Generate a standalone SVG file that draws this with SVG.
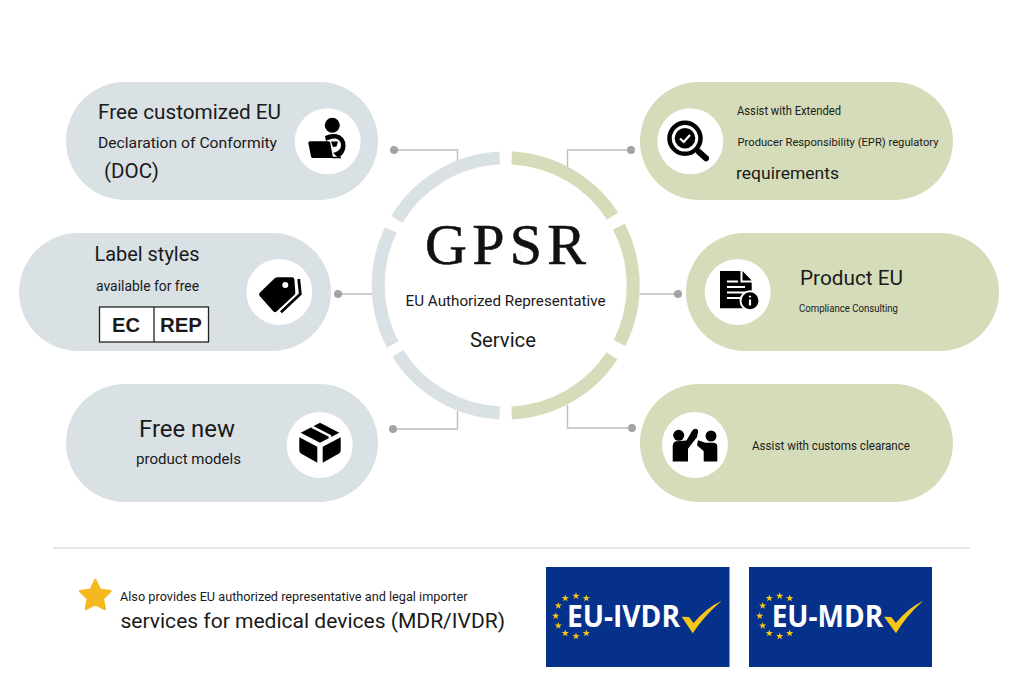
<svg xmlns="http://www.w3.org/2000/svg" width="1024" height="688" viewBox="0 0 1024 688">
<style>
text{font-family:"Roboto","Inter","Liberation Sans",sans-serif;fill:#1a1a1a;}
.bl{fill:#d9e1e5}.gr{fill:#d5dcb9}
.ic{fill:#fff}
.k{fill:#000}
.ringb{fill:none;stroke:#d9e1e5;stroke-width:13}
.ringg{fill:none;stroke:#d5dcb9;stroke-width:13}
.con{fill:none;stroke:#bdbdbd;stroke-width:1.4}
.dot{fill:#a3a3a3}
.badge{fill:#06318a}
.eu{font-family:"Open Sans","Liberation Sans",sans-serif;font-weight:700;font-size:31px;fill:#fff}
.st{fill:#f5c518}
.ck{fill:#f5c518}
</style>
<defs>
<path id="s" d="M0-3.8L.9-1.25 3.6-1.18 1.45.48 2.23 3.07 0 1.55-2.23 3.07-1.45.48-3.6-1.18-.9-1.25Z"/>
</defs>
<rect width="1024" height="688" fill="#fff"/>

<g id="connectors">
<path class="con" d="M394 150H457.5V161"/>
<circle class="dot" cx="394" cy="150" r="4"/>
<path class="con" d="M338 294H372"/>
<circle class="dot" cx="338" cy="294" r="4"/>
<path class="con" d="M393 429H457.5V411"/>
<circle class="dot" cx="393" cy="429" r="4"/>
<path class="con" d="M631 150H567.5V167"/>
<circle class="dot" cx="631" cy="150" r="4"/>
<path class="con" d="M640 294H678"/>
<circle class="dot" cx="678" cy="294" r="4"/>
<path class="con" d="M632 428H567.5V405"/>
<circle class="dot" cx="632" cy="428" r="4"/>
</g>

<g id="hub">
<path class="ringb" d="M499.7 158.1A127.5 127.5 0 0 0 396.8 219.3"/>
<path class="ringb" d="M390.9 230A127.5 127.5 0 0 0 392.6 344.4"/>
<path class="ringb" d="M397.8 353.4A127.5 127.5 0 0 0 499.7 412.9"/>
<path class="ringg" d="M511.7 158.1A127.5 127.5 0 0 1 612.6 216.1"/>
<path class="ringg" d="M618.9 226.8A127.5 127.5 0 0 1 619.5 343"/>
<path class="ringg" d="M612 355.9A127.5 127.5 0 0 1 511.7 412.9"/>
<text x="425" y="264" font-size="58" textLength="161" lengthAdjust="spacing" stroke="#111" stroke-width=".6" style="font-family:'Liberation Serif',serif;fill:#111">GPSR</text>
<text x="405.500" y="305.500" font-size="15" textLength="200" lengthAdjust="spacingAndGlyphs">EU Authorized Representative</text>
<text x="470" y="347" font-size="20" textLength="66" lengthAdjust="spacingAndGlyphs">Service</text>
</g>

<g id="node-doc">
<rect class="bl" x="66" y="82" width="312" height="118" rx="59"/>
<text x="98" y="118.500" font-size="21" textLength="183" lengthAdjust="spacingAndGlyphs">Free customized EU</text>
<text x="98" y="147.500" font-size="15.500" textLength="179" lengthAdjust="spacingAndGlyphs">Declaration of Conformity</text>
<text x="104" y="177.500" font-size="19.500" textLength="55" lengthAdjust="spacingAndGlyphs">(DOC)</text>
<circle class="ic" cx="327.700" cy="141.300" r="33"/>
<circle class="k" cx="332.300" cy="125.300" r="7.500"/>
<path class="k" d="M325 136Q330 133.500 336 134Q345.500 136 345.500 146Q345 155 338 157.500L333 153Q341 151 341 145.500Q341 139.500 335 138.500Q329 139 326 141Z"/>
<path class="k" d="M331 141.500L338 141.500L336.500 146.500L333 147Z"/>
<path class="k" d="M310 141.300H328.500Q330 141.300 330.300 143L333 158H313Q311.300 158 311 156.500L308.300 143Q308.300 141.300 310 141.300Z"/>
<path d="M332 157.500H341" stroke="#000" stroke-width="1.500"/>
</g>

<g id="node-label">
<rect class="bl" x="19" y="233" width="312" height="118" rx="59"/>
<text x="94.500" y="260.500" font-size="19.500" textLength="105" lengthAdjust="spacingAndGlyphs">Label styles</text>
<text x="96" y="290.500" font-size="14" textLength="103" lengthAdjust="spacingAndGlyphs">available for free</text>
<rect x="99.500" y="307" width="109" height="35" fill="#fff" stroke="#222" stroke-width="1.300"/>
<path d="M154 307V342" stroke="#222" stroke-width="1.300"/>
<text x="112" y="332" font-size="20" font-weight="700" textLength="28" lengthAdjust="spacingAndGlyphs" style="font-family:'Liberation Sans',sans-serif">EC</text>
<text x="160" y="332" font-size="20" font-weight="700" textLength="42" lengthAdjust="spacingAndGlyphs" style="font-family:'Liberation Sans',sans-serif">REP</text>
<circle class="ic" cx="279.300" cy="292" r="33"/>
<path class="k" d="M259.700 292.800L275 278Q276 277.300 277.500 277.300H292Q294.200 277.300 294.400 279.500L295.300 292.500Q295.300 294 294.300 295L276.500 311.500Q275 312.800 273.500 311.500L259.700 296Q258.300 294.300 259.700 292.800Z"/>
<circle class="ic" cx="285.300" cy="285" r="3"/>
<path d="M298.700 279L300.300 294L281 312.300" fill="none" stroke="#000" stroke-width="2.800"/>
</g>

<g id="node-models">
<rect class="bl" x="66" y="384" width="312" height="118" rx="59"/>
<text x="139" y="436.500" font-size="23" textLength="96" lengthAdjust="spacingAndGlyphs">Free new</text>
<text x="136" y="464" font-size="15" textLength="105" lengthAdjust="spacingAndGlyphs">product models</text>
<circle class="ic" cx="319.700" cy="445" r="33"/>
<path class="k" d="M320 422.700L339.300 432.700L320 442.700L300.700 432.700Z"/>
<path d="M311.700 426.700L330 436V443" fill="none" stroke="#fff" stroke-width="2.500"/>
<path class="k" d="M299.300 437.300L317.300 446.700V462.700L301 453.500Q299.300 452.500 299.300 450.500Z"/>
<path class="k" d="M322.700 446.700L340.700 437.300V450.500Q340.700 452.500 339 453.500L322.700 462.700Z"/>
</g>

<g id="node-epr">
<rect class="gr" x="640" y="82" width="313" height="118" rx="59"/>
<text x="737" y="114.500" font-size="12" textLength="104" lengthAdjust="spacingAndGlyphs">Assist with Extended</text>
<text x="737.500" y="146" font-size="11.800" textLength="201" lengthAdjust="spacingAndGlyphs">Producer Responsibility (EPR) regulatory</text>
<text x="736" y="178.500" font-size="17" textLength="103" lengthAdjust="spacingAndGlyphs">requirements</text>
<circle class="ic" cx="690.300" cy="141.300" r="33"/>
<circle cx="685" cy="138.300" r="15.500" fill="none" stroke="#000" stroke-width="4.500"/>
<circle class="k" cx="685" cy="138.300" r="10.300"/>
<path d="M680 138.500L683.700 142L690 135" fill="none" stroke="#fff" stroke-width="2.200"/>
<path d="M699 152L706 158.300" stroke="#000" stroke-width="6" stroke-linecap="round"/>
</g>

<g id="node-consulting">
<rect class="gr" x="686" y="233" width="313" height="118" rx="59"/>
<text x="800" y="284.500" font-size="20.500" textLength="103" lengthAdjust="spacingAndGlyphs">Product EU</text>
<text x="799" y="311.500" font-size="10.500" textLength="99" lengthAdjust="spacingAndGlyphs">Compliance Consulting</text>
<circle class="ic" cx="737.700" cy="292" r="33"/>
<path class="k" d="M720 271H740.500V282.500H751.700V308.300H720Z"/>
<path class="k" d="M742.500 271L751.700 280.500H742.500Z"/>
<path d="M727 281.500H738M727 287H745M727 292.500H745M727 298H740" stroke="#fff" stroke-width="1.800" fill="none"/>
<circle class="k" cx="750" cy="300.700" r="9.500" stroke="#fff" stroke-width="2"/>
<path d="M750 299.500V305.500M750 295.800V297.500" stroke="#fff" stroke-width="2.200"/>
</g>

<g id="node-customs">
<rect class="gr" x="640" y="384" width="313" height="118" rx="59"/>
<text x="752" y="450" font-size="12.500" textLength="158" lengthAdjust="spacingAndGlyphs">Assist with customs clearance</text>
<circle class="ic" cx="695" cy="445" r="33"/>
<circle class="k" cx="678.700" cy="435.300" r="5.500"/>
<circle class="k" cx="711" cy="436" r="5.500"/>
<path class="k" d="M672.700 446Q673 441.500 677 441.300L686.500 440.500L692 431Q693.500 428.500 696 428.700Q698.500 429.500 698 432L697 437L688 448.700V461.500H672.700Z"/>
<path class="k" d="M717.300 446Q717 442.700 713 442.700H705.500L698 440.300L697 445.300L703.700 451.300V461.500H717.300Z"/>
</g>

<line x1="53" y1="548" x2="970" y2="548" stroke="#e6e6e6" stroke-width="2"/>

<g id="note">
<path d="M95.300 580L99.800 589.700L110.500 591.200L102.800 598.700L104.700 609L95.300 604.200L85.900 609L87.800 598.700L80.100 591.200L90.800 589.700Z" fill="#f5b91f" stroke="#f5b91f" stroke-width="2.500" stroke-linejoin="round"/>
<text x="120" y="600.500" font-size="13.500" textLength="347.500" lengthAdjust="spacingAndGlyphs">Also provides EU authorized representative and legal importer</text>
<text x="120.500" y="627.500" font-size="21" textLength="384.500" lengthAdjust="spacingAndGlyphs">services for medical devices (MDR/IVDR)</text>
</g>

<g id="badge-ivdr">
<rect class="badge" x="546" y="567" width="183.500" height="100"/>
<g class="st">
<use href="#s" x="576" y="596"/><use href="#s" x="565.300" y="598.300"/><use href="#s" x="586.300" y="598.300"/><use href="#s" x="558.300" y="605.700"/><use href="#s" x="555.700" y="616"/><use href="#s" x="558.300" y="625.700"/><use href="#s" x="565.300" y="633.300"/><use href="#s" x="576" y="636.300"/><use href="#s" x="586.300" y="633.300"/>
</g>
<text class="eu" x="567" y="627" textLength="113" lengthAdjust="spacingAndGlyphs">EU-IVDR</text>
<path class="ck" d="M681.700 616.700L689 617L693.500 623Q706 608 721.700 600.700Q704 616 692.700 633.300Z"/>
</g>

<g id="badge-mdr">
<rect class="badge" x="749" y="567" width="183" height="100"/>
<g class="st">
<use href="#s" x="779.700" y="596"/><use href="#s" x="769.300" y="598.300"/><use href="#s" x="789.700" y="598.300"/><use href="#s" x="762.700" y="605.700"/><use href="#s" x="759.700" y="616"/><use href="#s" x="762.700" y="625.700"/><use href="#s" x="769.300" y="633.300"/><use href="#s" x="779.700" y="636.300"/><use href="#s" x="789.700" y="633.300"/>
</g>
<text class="eu" x="771.700" y="627" textLength="111.500" lengthAdjust="spacingAndGlyphs">EU-MDR</text>
<path class="ck" d="M884 616.700L891.300 617L895.800 623Q908 608 923.300 600.700Q906 616 896 633.300Z"/>
</g>
</svg>
